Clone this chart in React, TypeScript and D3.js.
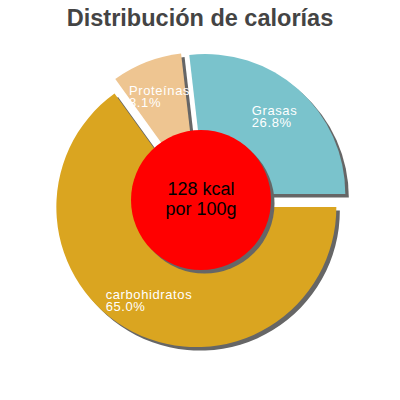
import React, { useEffect, useRef } from "react";
import * as d3 from "d3";

const categories = ["carbohidratos", "Proteínas", "Grasas"];
const percents = [65.0, 8.1, 26.8];
const colors = ["#DAA520", "#EEC591", "#7AC3CC"];
const title = "Distribución de calorías";
const centerLines = ["128 kcal", "por 100g"];

export default function App() {
  const ref = useRef<SVGSVGElement | null>(null);
  useEffect(() => {
    const svg = d3.select(ref.current);
    svg.selectAll("*").remove();
    const W = 400, H = 400;
    const cx = 200, cy = 200, R = 140, explode = 8, shadow = 3.5;

    svg.append("rect").attr("width", W).attr("height", H).attr("fill", "#fff");

    svg.append("text")
      .attr("x", 200).attr("y", 26)
      .attr("text-anchor", "middle")
      .attr("font-family", "Liberation Sans, Arial, sans-serif")
      .attr("font-weight", "bold")
      .attr("font-size", 23.5)
      .attr("fill", "#444")
      .text(title);

    const data = categories.map((c, i) => ({ c, v: percents[i], color: colors[i] }));
    const pie = d3.pie<any>().value((d) => d.v).sort(null)
      .startAngle(Math.PI / 2).endAngle(Math.PI / 2 + 2 * Math.PI);
    const arcs = pie(data);
    const arc = d3.arc<any>().innerRadius(0).outerRadius(R);

    const g = svg.append("g").attr("transform", `translate(${cx},${cy})`);

    const order = [1, 2, 0];
    order.forEach((i) => {
      const a = arcs[i];
      const mid = (a.startAngle + a.endAngle) / 2;
      const ox = Math.sin(mid) * explode;
      const oy = -Math.cos(mid) * explode;
      const sg = g.append("g").attr("transform", `translate(${ox},${oy})`);
      sg.append("path").attr("d", arc(a) as string)
        .attr("transform", `translate(${shadow},${shadow})`)
        .attr("fill", "#666");
      sg.append("path").attr("d", arc(a) as string).attr("fill", a.data.color);
      const lr = 104;
      const lx = Math.sin(mid) * lr;
      const ly = -Math.cos(mid) * lr;
      const t = sg.append("text")
        .attr("font-family", "Liberation Sans, Arial, sans-serif")
        .attr("font-size", 13)
        .attr("letter-spacing", 0.6)
        .attr("fill", "#fff");
      const l1 = t.append("tspan").text(a.data.c);
      const l2 = t.append("tspan").text(a.data.v.toFixed(1) + "%");
      const w = Math.max(
        (l1.node() as SVGTSpanElement).getComputedTextLength(),
        (l2.node() as SVGTSpanElement).getComputedTextLength()
      );
      const x0 = lx - w / 2;
      l1.attr("x", x0).attr("y", ly - 1);
      l2.attr("x", x0).attr("y", ly + 11);
    });

    g.append("circle").attr("r", 70).attr("cx", 1 + shadow).attr("cy", shadow).attr("fill", "#666");
    g.append("circle").attr("r", 70).attr("cx", 1).attr("cy", 0).attr("fill", "#FF0000");
    centerLines.forEach((s, i) => {
      g.append("text")
        .attr("x", 1).attr("y", -5 + i * 20)
        .attr("text-anchor", "middle")
        .attr("font-family", "Liberation Sans, Arial, sans-serif")
        .attr("font-size", 18)
        .attr("fill", "#000")
        .text(s);
    });
  }, []);
  return (
    <svg ref={ref} width={400} height={400} style={{ position: "absolute", left: 0, top: 0 }} />
  );
}
